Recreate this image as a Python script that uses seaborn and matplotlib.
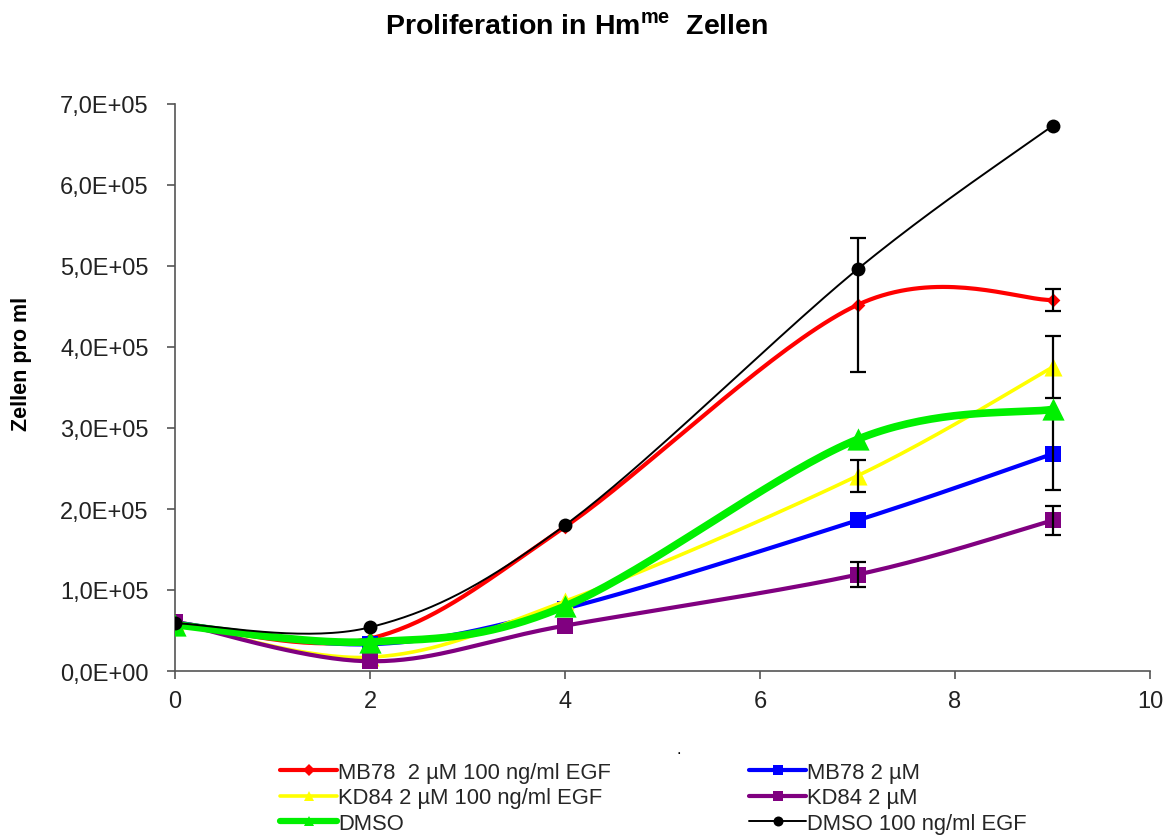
import numpy as np
import pandas as pd
import matplotlib
matplotlib.use("Agg")
import matplotlib.pyplot as plt
import seaborn as sns
from matplotlib.lines import Line2D
from matplotlib.ticker import FuncFormatter, MultipleLocator

sns.set_style("white")
plt.rcParams['font.family'] = ['Liberation Sans', 'DejaVu Sans']
plt.rcParams['mathtext.fontset'] = 'custom'
plt.rcParams['mathtext.bf'] = 'Liberation Sans:bold'
plt.rcParams['mathtext.rm'] = 'Liberation Sans:bold'

days = [0, 2, 4, 7, 9]
series_names = ["MB78  2 µM 100 ng/ml EGF", "KD84 2 µM 100 ng/ml EGF", "DMSO",
                "MB78 2 µM", "KD84 2 µM", "DMSO 100 ng/ml EGF"]
mb78_egf = [60000, 40000, 178000, 452000, 458000]
kd84_egf = [60000, 17000, 86000, 241000, 375000]
dmso = [57000, 36000, 80000, 286000, 323000]
mb78 = [60000, 33000, 77000, 186000, 268000]
kd84 = [60000, 12000, 56000, 119000, 186000]
dmso_egf = [59000, 54000, 180000, 496000, 673000]

err_mb78_egf = [0, 0, 0, 83000, 14000]
err_kd84_egf = [0, 0, 0, 20000, 38000]
err_dmso = [0, 0, 0, 0, 0]
err_mb78 = [0, 0, 0, 0, 44000]
err_kd84 = [0, 0, 0, 15000, 18000]
err_dmso_egf = [0, 0, 0, 0, 0]

values = [mb78_egf, kd84_egf, dmso, mb78, kd84, dmso_egf]
errors = [err_mb78_egf, err_kd84_egf, err_dmso, err_mb78, err_kd84, err_dmso_egf]
colors = ["#ff0000", "#ffff00", "#00f000", "#0000ff", "#800080", "#000000"]
markers = ["D", "^", "^", "s", "s", "o"]
msizes = [7, 13, 16, 11, 11, 10]
lws = [3.0, 2.6, 5.5, 3.0, 3.0, 1.4]
draw_order = [0, 3, 1, 4, 2, 5]


def smooth(xs, ys, n=40):
    # Catmull-Rom style smoothing (like spreadsheet "smoothed line")
    P = np.column_stack([xs, ys]).astype(float)
    P = np.vstack([P[0], P, P[-1]])
    out = []
    for i in range(1, len(P) - 2):
        p0, p1, p2, p3 = P[i - 1], P[i], P[i + 1], P[i + 2]
        t = np.linspace(0, 1, n)[:, None]
        c1 = p1 + (p2 - p0) / 6
        c2 = p2 - (p3 - p1) / 6
        b = ((1 - t) ** 3) * p1 + 3 * ((1 - t) ** 2) * t * c1 + 3 * (1 - t) * t ** 2 * c2 + t ** 3 * p2
        out.append(b if i == 1 else b[1:])
    return np.vstack(out)


fig = plt.figure(figsize=(11.72, 8.37), dpi=100)
ax = fig.add_axes([175 / 1172, 1 - 672 / 837, (1150 - 175) / 1172, (672 - 105) / 837])

for k, i in enumerate(draw_order):
    sm = smooth(days, values[i])
    df = pd.DataFrame({"x": sm[:, 0], "y": sm[:, 1]})
    z = 3 + k
    sns.lineplot(data=df, x="x", y="y", sort=False, estimator=None, color=colors[i],
                 lw=lws[i], ax=ax, zorder=z)
    pts = pd.DataFrame({"x": days, "y": values[i]})
    sns.scatterplot(data=pts, x="x", y="y", marker=markers[i], color=colors[i],
                    s=msizes[i] ** 2, edgecolor=colors[i], linewidth=0, ax=ax, zorder=z + 0.1)
    e = np.array(errors[i])
    mask = e > 0
    if mask.any():
        ax.errorbar(np.array(days)[mask], np.array(values[i])[mask], yerr=e[mask], fmt="none",
                    ecolor="black", elinewidth=1.6, capsize=6, capthick=1.6, zorder=z + 0.2)

handles = []
for i in range(6):
    handles.append(Line2D([0], [0], color=colors[i], lw=lws[i] if i != 2 else 4.5,
                          marker=markers[i], markersize=min(msizes[i], 8) * 0.9,
                          markeredgewidth=0, label=series_names[i]))

ax.set_xlim(0, 10)
ax.set_ylim(0, 700000)
ax.xaxis.set_major_locator(MultipleLocator(2))
ax.yaxis.set_major_locator(MultipleLocator(100000))
ax.yaxis.set_major_formatter(FuncFormatter(lambda v, p: f"{v:.1E}".replace(".", ",")))
ax.set_xlabel("")
ax.set_ylabel("")
for s in ["top", "right"]:
    ax.spines[s].set_visible(False)
for s in ["left", "bottom"]:
    ax.spines[s].set_color("#555555")
    ax.spines[s].set_linewidth(1.2)
ax.tick_params(axis="both", direction="out", length=6, width=1.2, color="#555555",
               labelsize=17, labelcolor="#222222", left=True, bottom=True)
ax.tick_params(axis="x", pad=8)
ax.tick_params(axis="y", pad=13)

fig.text(577 / 1172, 1 - 27 / 837, r"Proliferation in Hm$^{\mathbf{me}}$  Zellen",
         ha="center", va="center", fontsize=20.5, fontweight="bold", color="black")
fig.text(22 / 1172, 1 - 364 / 837, "Zellen pro ml", rotation=90, ha="center", va="center",
         fontsize=15.5, fontweight="bold", color="black")
fig.text(679 / 1172, 1 - 750 / 837, ".", ha="center", va="center", fontsize=12, color="black")

fig.legend(handles=handles, loc="upper left", bbox_to_anchor=(280 / 1172, 1 - 763 / 837),
           ncol=2, frameon=False, prop={"size": 15.8},
           handlelength=2.6, handletextpad=0.05,
           columnspacing=6.3, labelspacing=0.2, borderaxespad=0, borderpad=0)

fig.savefig("out.png", dpi=100)
